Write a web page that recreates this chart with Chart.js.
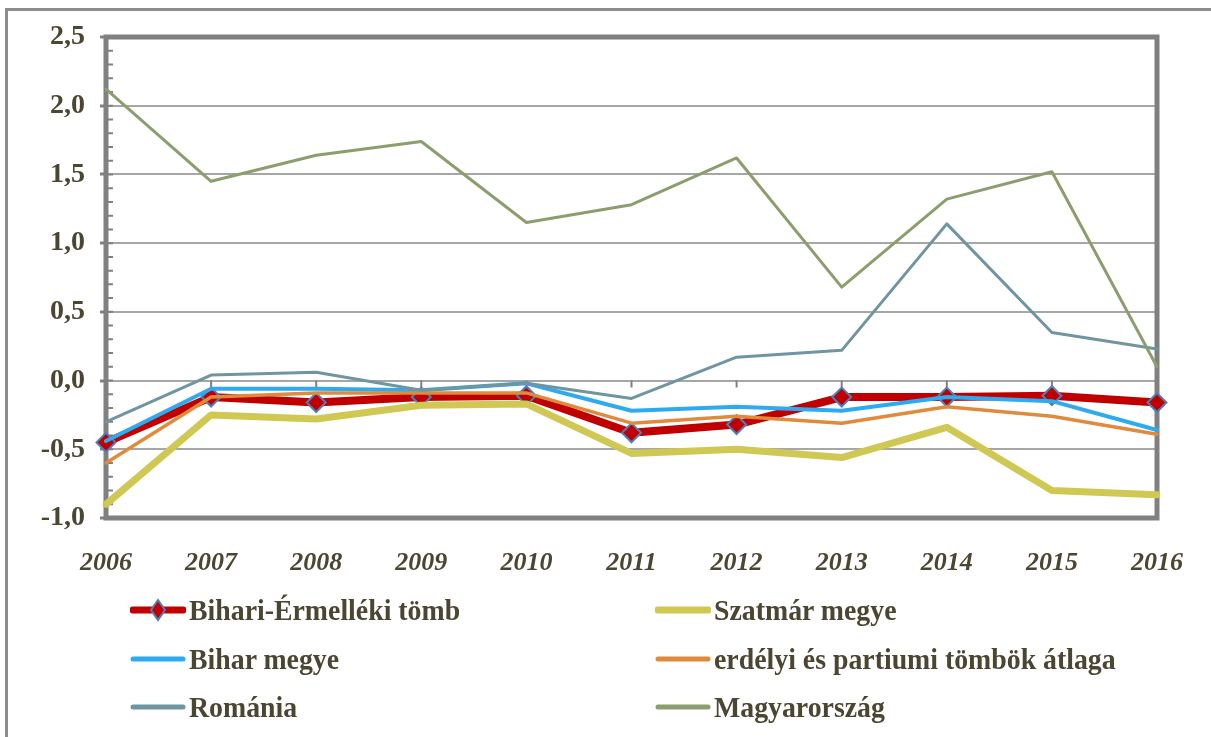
<!DOCTYPE html>
<html>
<head>
<meta charset="utf-8">
<script src="https://cdn.jsdelivr.net/npm/chart.js@4.4.1/dist/chart.umd.min.js"></script>
<style>
  html, body { margin: 0; padding: 0; background: #fff; }
  #wrap { position: relative; width: 1211px; height: 737px; overflow: hidden; background: #fff; }
  #frame { position: absolute; left: 5px; top: 8px; width: 1220px; height: 740px;
           border-top: 3px solid #8c8c8c; border-left: 3px solid #8c8c8c; }
  #chart-box { position: absolute; left: 0; top: 0; width: 1211px; height: 737px; }
  .leg { position: absolute; height: 40px; display: flex; align-items: center; white-space: nowrap; }
  .leg svg { flex: none; }
  .leg span { font-family: 'Liberation Serif', 'Times New Roman', serif; font-weight: bold;
              font-size: 30px; line-height: 1; color: #4a4632; display: inline-block;
              transform: scaleX(0.927); transform-origin: left center; margin-left: 3px; }
</style>
</head>
<body>
<div id="wrap">
  <div id="frame"></div>
  <div id="chart-box"><canvas id="chart"></canvas></div>
  <div id="legend"></div>
</div>
<script>
const years = ['2006', '2007', '2008', '2009', '2010', '2011', '2012', '2013', '2014', '2015', '2016'];

const bihariErmelleki = [-0.45, -0.12, -0.16, -0.12, -0.11, -0.38, -0.32, -0.12, -0.12, -0.11, -0.16];
const szatmarMegye = [-0.90, -0.25, -0.28, -0.18, -0.17, -0.53, -0.50, -0.56, -0.34, -0.80, -0.83];
const biharMegye = [-0.44, -0.06, -0.06, -0.07, -0.02, -0.22, -0.19, -0.22, -0.12, -0.15, -0.36];
const erdelyiAtlag = [-0.60, -0.12, -0.09, -0.09, -0.09, -0.31, -0.26, -0.31, -0.19, -0.26, -0.39];
const romania = [-0.30, 0.04, 0.06, -0.07, -0.02, -0.13, 0.17, 0.22, 1.14, 0.35, 0.23];
const magyarorszag = [2.12, 1.45, 1.64, 1.74, 1.15, 1.28, 1.62, 0.68, 1.32, 1.52, 0.10];

const seriesNames = [
  'Bihari-Érmelléki tömb',
  'Szatmár megye',
  'Bihar megye',
  'erdélyi és partiumi tömbök átlaga',
  'Románia',
  'Magyarország',
];

const yMin = -1.0;
const yMax = 2.5;
const textColor = '#4a4632';
const serif = "'Liberation Serif', 'Times New Roman', serif";

function line(label, data, color, width, order, extra) {
  return Object.assign({
    label: label,
    data: data,
    borderColor: color,
    backgroundColor: color,
    borderWidth: width,
    borderJoinStyle: 'round',
    borderCapStyle: 'round',
    pointRadius: 0,
    pointHoverRadius: 0,
    tension: 0,
    order: order,
    legendWidth: Math.max(width, 5),
  }, extra || {});
}

const datasets = [
  line(seriesNames[0], bihariErmelleki, '#c00000', 8, 6, {
    pointStyle: 'rectRot',
    pointRadius: 9.5,
    pointBackgroundColor: '#c00000',
    pointBorderColor: '#4f7fb9',
    pointBorderWidth: 2,
    legendWidth: 7,
  }),
  line(seriesNames[1], szatmarMegye, '#cfc852', 7, 5),
  line(seriesNames[2], biharMegye, '#2eaaf0', 4, 4),
  line(seriesNames[3], erdelyiAtlag, '#e08a3b', 3.5, 3),
  line(seriesNames[4], romania, '#6f95a1', 3, 2),
  line(seriesNames[5], magyarorszag, '#8c9d6e', 3, 1),
];

// frame, minor ticks on the value axis, tick marks on the zero line
const framePlugin = {
  id: 'frame',
  beforeDatasetsDraw(chart) {
    const { ctx, chartArea: a, scales } = chart;
    const x = scales.x, y = scales.y;
    ctx.save();
    ctx.strokeStyle = '#808080';
    ctx.lineWidth = 2;
    ctx.beginPath();
    for (let i = 0; i <= Math.round((yMax - yMin) * 10); i++) {
      const py = y.getPixelForValue(yMin + i / 10);
      ctx.moveTo(a.left, py);
      ctx.lineTo(a.left + 7, py);
    }
    const y0 = y.getPixelForValue(0);
    for (let i = 1; i < years.length - 1; i++) {
      const px = x.getPixelForValue(i);
      ctx.moveTo(px, y0);
      ctx.lineTo(px, y0 + 7);
    }
    ctx.stroke();
    ctx.lineWidth = 5;
    ctx.strokeRect(a.left, a.top, a.right - a.left, a.bottom - a.top);
    ctx.restore();
  },
};

const config = {
  type: 'line',
  data: { labels: years, datasets: datasets },
  options: {
    responsive: true,
    maintainAspectRatio: false,
    animation: false,
    events: [],
    layout: { padding: { top: 37, right: 54, bottom: 159, left: 0 } },
    plugins: { legend: { display: false }, tooltip: { enabled: false } },
    scales: {
      x: {
        offset: false,
        grid: { display: false },
        border: { display: false },
        ticks: {
          color: textColor,
          padding: 22,
          maxRotation: 0,
          autoSkip: false,
          font: { family: serif, size: 26, weight: 'bold', style: 'italic' },
        },
        afterFit(scale) { scale.height = 60; },
      },
      y: {
        min: yMin,
        max: yMax,
        border: { display: false },
        grid: {
          color: '#a6a6a6',
          lineWidth: 2,
          drawTicks: true,
          tickLength: 6,
          tickColor: '#808080',
          tickWidth: 3,
        },
        ticks: {
          stepSize: 0.5,
          color: textColor,
          padding: 15,
          font: { family: serif, size: 28, weight: 'bold' },
          callback: (v) => Number(v).toFixed(1).replace('.', ','),
        },
        afterFit(scale) { scale.width = 106; },
      },
    },
  },
  plugins: [framePlugin],
};

const chart = new Chart(document.getElementById('chart'), config);

// legend in two columns, three rows
const colLeft = [130, 655];
const rowMid = [610, 659, 707];
const legendEl = document.getElementById('legend');
chart.data.datasets.forEach((ds, i) => {
  const item = document.createElement('div');
  item.className = 'leg';
  item.style.left = colLeft[i % 2] + 'px';
  item.style.top = (rowMid[Math.floor(i / 2)] - 20) + 'px';
  let svg = '<svg width="56" height="24" viewBox="0 0 56 24">' +
    '<line x1="3" y1="12" x2="53" y2="12" stroke="' + ds.borderColor +
    '" stroke-width="' + ds.legendWidth + '" stroke-linecap="round"/>';
  if (ds.pointStyle === 'rectRot') {
    svg += '<polygon points="28,2 35,12 28,22 21,12" fill="' + ds.pointBackgroundColor +
      '" stroke="' + ds.pointBorderColor + '" stroke-width="2"/>';
  }
  svg += '</svg>';
  item.innerHTML = svg;
  const span = document.createElement('span');
  span.textContent = ds.label;
  item.appendChild(span);
  legendEl.appendChild(item);
});
</script>
</body>
</html>
